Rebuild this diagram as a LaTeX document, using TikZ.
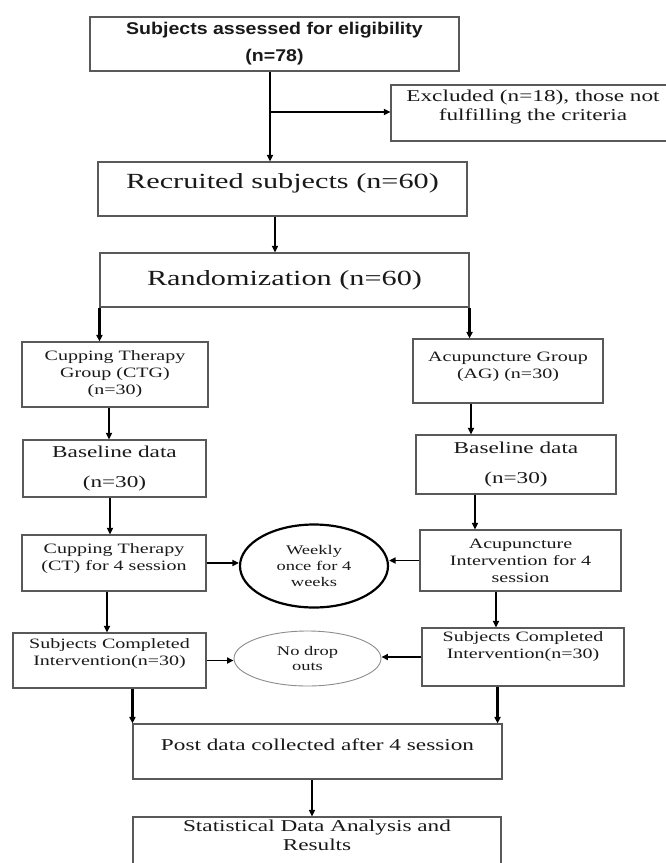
\documentclass[tikz,border=0pt]{standalone}
\usepackage{fontspec}
\setmainfont{Liberation Serif}[FakeStretch=1.4]
\newfontfamily\headfont{Liberation Sans}[FakeStretch=1.15]
\usepackage{tikz}
\usetikzlibrary{arrows.meta,shapes.geometric,positioning}
\tikzset{
  base/.style={align=center, inner sep=0pt, text=black!90},
  box/.style={base, rectangle, draw=black!65, line width=1.1pt},
  oval/.style={base, ellipse, draw=black, line width=2.2pt},
  ovallight/.style={oval, draw=black!45, line width=0.9pt},
  arr/.style={-{Triangle[length=6.5pt,width=6pt]}, line width=2.2pt, draw=black},
  arrthin/.style={arr, line width=1.6pt},
  fhead/.style={font=\headfont\bfseries\fontsize{17}{20}\selectfont},
  fbig/.style={font=\fontsize{21.6}{26}\selectfont},
  fmed/.style={font=\fontsize{16.6}{19.5}\selectfont},
  fsmall/.style={font=\fontsize{14.3}{17}\selectfont},
  foval/.style={font=\fontsize{13.2}{15.8}\selectfont},
  lifttext/.style={text depth=#1},
}
\begin{document}
\begin{tikzpicture}[x=1pt,y=-1pt]
  \useasboundingbox (0,0) rectangle (665,863);
  % top part
  \node[box,fhead,minimum width=369,minimum height=54] (asses) at (274.5,44) {Subjects assessed for eligibility\\[7pt](n=78)};
  \node[box,fmed,minimum width=284,minimum height=56,lifttext=16pt] (excl) at (533,113) {Excluded (n=18), those not\\fulfilling the criteria};
  \node[box,fbig,minimum width=369,minimum height=54,lifttext=15pt] (recr) at (282.5,189) {Recruited subjects (n=60)};
  \node[box,fbig,minimum width=369,minimum height=54] (rand) at (284.5,280) {Randomization (n=60)};
  \coordinate (split) at (270,112);
  \draw[arr] (asses.south -| split) -- (recr.north -| split);
  \draw[arr] (split) -- (excl.west |- split);
  \draw[arr] ([xshift=-7.5pt]recr.south) -- ([xshift=-7.5pt]recr.south |- rand.north);
  % two arms
  \node[box,fsmall,minimum width=186,minimum height=65] (ctg) at (115,374.5) {Cupping Therapy\\Group (CTG)\\(n=30)};
  \node[box,fsmall,minimum width=190,minimum height=64,lifttext=12pt] (ag) at (508,371) {Acupuncture Group\\(AG) (n=30)};
  \node[box,fmed,minimum width=183,minimum height=57] (basel) at (114.5,468.5) {Baseline data\\[10pt](n=30)};
  \node[box,fmed,minimum width=200,minimum height=59] (baser) at (516,464.5) {Baseline data\\[10pt](n=30)};
  \node[box,fsmall,minimum width=184,minimum height=56,lifttext=12pt] (ct) at (114,563) {Cupping Therapy\\(CT) for 4 session};
  \node[box,fsmall,minimum width=201,minimum height=61] (ai) at (520.5,560.5) {Acupuncture\\Intervention for 4\\session};
  \node[oval,foval,minimum width=148,minimum height=83] (wk) at (314,566) {Weekly\\once for 4\\weeks};
  \node[box,fsmall,minimum width=193,minimum height=55,lifttext=16pt] (scl) at (109.5,660.5) {Subjects Completed\\Intervention(n=30)};
  \node[box,fsmall,minimum width=202,minimum height=58,lifttext=23pt] (scr) at (523,657) {Subjects Completed\\Intervention(n=30)};
  \node[ovallight,foval,minimum width=147,minimum height=55] (nodrop) at (307.5,658.5) {No drop\\outs};
  \draw[arr] (rand.south west) -- (rand.south west |- ctg.north);
  \draw[arr] (rand.south east) -- (rand.south east |- ag.north);
  \draw[arr] ([xshift=-6pt]ctg.south) -- ([xshift=-6pt]ctg.south |- basel.north);
  \draw[arr] ([xshift=-37pt]ag.south) -- ([xshift=-37pt]ag.south |- baser.north);
  \draw[arr] ([xshift=-4.5pt]basel.south) -- ([xshift=-4.5pt]basel.south |- ct.north);
  \draw[arr] ([xshift=-41pt]baser.south) -- ([xshift=-41pt]baser.south |- ai.north);
  \draw[arr] ([xshift=-7pt]ct.south) -- ([xshift=-7pt]ct.south |- scl.north);
  \draw[arr] ([xshift=-24.5pt]ai.south) -- ([xshift=-24.5pt]ai.south |- scr.north);
  \draw[arr] (ct.east) -- (ct.east -| wk.west);
  \draw[arrthin] (ai.west) -- (ai.west -| wk.east);
  \draw[arrthin] (scl.east) -- (scl.east -| nodrop.west);
  \draw[arrthin] (scr.west) -- (scr.west -| nodrop.east);
  % bottom part
  \node[box,fmed,minimum width=369,minimum height=55,lifttext=14pt] (post) at (317.5,751.5) {Post data collected after 4 session};
  \node[box,fmed,minimum width=368,minimum height=60,lifttext=24pt] (stat) at (317,847) {Statistical Data Analysis and\\Results};
  \draw[arr] (post.north west |- scl.south) -- (post.north west);
  \draw[arr] ([xshift=-5pt]post.north east |- scr.south) -- ([xshift=-5pt]post.north east);
  \draw[arr] ([xshift=-5.5pt]post.south) -- ([xshift=-5.5pt]post.south |- stat.north);
\end{tikzpicture}
\end{document}
